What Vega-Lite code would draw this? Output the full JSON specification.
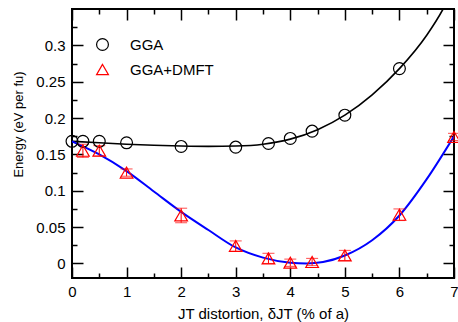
{
  "$schema": "https://vega.github.io/schema/vega-lite/v6.json",
  "width": 382,
  "height": 269,
  "autosize": "none",
  "padding": {"left": 72, "top": 9, "right": 4, "bottom": 44},
  "background": "white",
  "config": {
    "font": "Liberation Sans",
    "view": {"stroke": "black", "strokeWidth": 2},
    "axis": {"grid": false, "domain": false, "labelColor": "black", "titleColor": "black", "tickColor": "black", "labelFlush": false, "labelOverlap": false, "titleFontWeight": "normal"}
  },
  "datasets": {
    "gga_fit": [
      {"x": 0, "y": 0.168}, {"x": 0.5, "y": 0.166}, {"x": 1, "y": 0.164}, {"x": 1.5, "y": 0.1625},
      {"x": 2, "y": 0.1615}, {"x": 2.5, "y": 0.161}, {"x": 3, "y": 0.1615}, {"x": 3.5, "y": 0.164},
      {"x": 4, "y": 0.171}, {"x": 4.5, "y": 0.184}, {"x": 5, "y": 0.204}, {"x": 5.5, "y": 0.232},
      {"x": 6, "y": 0.268}, {"x": 6.5, "y": 0.314}, {"x": 6.8, "y": 0.35}, {"x": 7, "y": 0.38}
    ],
    "dmft_fit": [
      {"x": 0, "y": 0.168}, {"x": 0.5, "y": 0.15}, {"x": 1, "y": 0.127}, {"x": 1.5, "y": 0.099},
      {"x": 2, "y": 0.071}, {"x": 2.5, "y": 0.046}, {"x": 3, "y": 0.022}, {"x": 3.5, "y": 0.008},
      {"x": 4, "y": 0.001}, {"x": 4.3, "y": 0.0}, {"x": 4.6, "y": 0.002}, {"x": 5, "y": 0.011},
      {"x": 5.5, "y": 0.032}, {"x": 6, "y": 0.066}, {"x": 6.5, "y": 0.116}, {"x": 7, "y": 0.175}
    ],
    "gga": [
      {"x": 0, "y": 0.168, "series": "GGA"}, {"x": 0.2, "y": 0.168, "series": "GGA"},
      {"x": 0.5, "y": 0.168, "series": "GGA"}, {"x": 1, "y": 0.166, "series": "GGA"},
      {"x": 2, "y": 0.161, "series": "GGA"}, {"x": 3, "y": 0.16, "series": "GGA"},
      {"x": 3.6, "y": 0.165, "series": "GGA"}, {"x": 4, "y": 0.172, "series": "GGA"},
      {"x": 4.4, "y": 0.182, "series": "GGA"}, {"x": 5, "y": 0.204, "series": "GGA"},
      {"x": 6, "y": 0.268, "series": "GGA"}
    ],
    "dmft": [
      {"x": 0.2, "y": 0.155, "lo": 0.146, "hi": 0.164, "series": "GGA+DMFT"},
      {"x": 0.5, "y": 0.155, "lo": 0.148, "hi": 0.162, "series": "GGA+DMFT"},
      {"x": 1, "y": 0.125, "lo": 0.12, "hi": 0.13, "series": "GGA+DMFT"},
      {"x": 2, "y": 0.066, "lo": 0.056, "hi": 0.076, "series": "GGA+DMFT"},
      {"x": 3, "y": 0.024, "lo": 0.017, "hi": 0.031, "series": "GGA+DMFT"},
      {"x": 3.6, "y": 0.007, "lo": 0.0, "hi": 0.014, "series": "GGA+DMFT"},
      {"x": 4, "y": 0.001, "lo": -0.004, "hi": 0.006, "series": "GGA+DMFT"},
      {"x": 4.4, "y": 0.002, "lo": -0.003, "hi": 0.007, "series": "GGA+DMFT"},
      {"x": 5, "y": 0.011, "lo": 0.004, "hi": 0.018, "series": "GGA+DMFT"},
      {"x": 6, "y": 0.067, "lo": 0.059, "hi": 0.075, "series": "GGA+DMFT"},
      {"x": 7, "y": 0.174, "lo": 0.169, "hi": 0.179, "series": "GGA+DMFT"}
    ]
  },
  "resolve": {"axis": {"x": "independent", "y": "independent"}},
  "layer": [
    {
      "data": {"name": "gga_fit"},
      "mark": {"type": "line", "color": "black", "strokeWidth": 1.6, "clip": true, "interpolate": "monotone"},
      "encoding": {
        "x": {"field": "x", "type": "quantitative", "scale": {"domain": [0, 7], "nice": false, "zero": false},
          "axis": {"orient": "bottom", "values": [0, 1, 2, 3, 4, 5, 6, 7], "format": "d", "ticks": false, "labelPadding": 6, "labelFontSize": 15,
            "title": "JT distortion, δJT (% of a)", "titleFontSize": 15, "titleColor": "black", "titleY": 28, "titleBaseline": "top"}},
        "y": {"field": "y", "type": "quantitative", "scale": {"domain": [-0.02, 0.35], "nice": false, "zero": false},
          "axis": {"orient": "left", "values": [0, 0.05, 0.1, 0.15, 0.2, 0.25, 0.3], "format": ".2~f", "ticks": false, "labelPadding": 7, "labelFontSize": 15,
            "title": "Energy (eV per fu)", "titleFontSize": 13, "titleColor": "black", "titleX": -47, "titleY": 115}}
      }
    },
    {
      "data": {"name": "dmft_fit"},
      "mark": {"type": "line", "color": "#0000ff", "strokeWidth": 2, "clip": true, "interpolate": "monotone"},
      "encoding": {
        "x": {"field": "x", "type": "quantitative", "scale": {"domain": [0, 7], "nice": false, "zero": false},
          "axis": {"orient": "bottom", "values": [0, 1, 2, 3, 4, 5, 6, 7], "labels": false, "tickSize": -11, "tickWidth": 1.5, "title": null}},
        "y": {"field": "y", "type": "quantitative", "scale": {"domain": [-0.02, 0.35], "nice": false, "zero": false},
          "axis": {"orient": "left", "values": [0, 0.05, 0.1, 0.15, 0.2, 0.25, 0.3], "labels": false, "tickSize": -11, "tickWidth": 1.5, "title": null}}
      }
    },
    {
      "data": {"name": "dmft"},
      "mark": {"type": "rule", "color": "red", "strokeWidth": 1},
      "encoding": {
        "x": {"field": "x", "type": "quantitative", "scale": {"domain": [0, 7], "nice": false, "zero": false},
          "axis": {"orient": "bottom", "values": [0.5, 1.5, 2.5, 3.5, 4.5, 5.5, 6.5], "labels": false, "tickSize": -5, "tickWidth": 1.5, "title": null}},
        "y": {"field": "lo", "type": "quantitative", "scale": {"domain": [-0.02, 0.35], "nice": false, "zero": false},
          "axis": {"orient": "left", "values": [0.025, 0.075, 0.125, 0.175, 0.225, 0.275, 0.325], "labels": false, "tickSize": -5, "tickWidth": 1.5, "title": null}},
        "y2": {"field": "hi"}
      }
    },
    {
      "data": {"name": "dmft"},
      "transform": [{"fold": ["lo", "hi"], "as": ["end", "val"]}],
      "mark": {"type": "tick", "orient": "horizontal", "color": "red", "size": 12, "thickness": 1},
      "encoding": {
        "x": {"field": "x", "type": "quantitative", "scale": {"domain": [0, 7], "nice": false, "zero": false}, "axis": null},
        "y": {"field": "val", "type": "quantitative", "scale": {"domain": [-0.02, 0.35], "nice": false, "zero": false}, "axis": null}
      }
    },
    {
      "data": {"name": "gga"},
      "mark": {"type": "point", "filled": false, "size": 140, "strokeWidth": 1.2, "opacity": 1},
      "encoding": {
        "x": {"field": "x", "type": "quantitative", "scale": {"domain": [0, 7], "nice": false, "zero": false},
          "axis": {"orient": "top", "values": [0, 1, 2, 3, 4, 5, 6, 7], "labels": false, "tickSize": -11, "tickWidth": 1.5, "title": null}},
        "y": {"field": "y", "type": "quantitative", "scale": {"domain": [-0.02, 0.35], "nice": false, "zero": false},
          "axis": {"orient": "right", "values": [0, 0.05, 0.1, 0.15, 0.2, 0.25, 0.3], "labels": false, "tickSize": -11, "tickWidth": 1.5, "title": null}},
        "color": {"field": "series", "type": "nominal", "scale": {"domain": ["GGA", "GGA+DMFT"], "range": ["black", "red"]},
          "legend": {"orient": "none", "legendX": 23, "legendY": 28, "title": null, "labelFontSize": 15, "labelColor": "black", "symbolSize": 140, "symbolStrokeWidth": 1.2, "rowPadding": 8, "labelOffset": 20, "padding": 0}},
        "shape": {"field": "series", "type": "nominal", "scale": {"domain": ["GGA", "GGA+DMFT"], "range": ["circle", "triangle-up"]},
          "legend": {"orient": "none", "legendX": 23, "legendY": 28, "title": null, "labelFontSize": 15, "labelColor": "black", "symbolSize": 140, "symbolStrokeWidth": 1.2, "rowPadding": 8, "labelOffset": 20, "padding": 0}}
      }
    },
    {
      "data": {"name": "dmft"},
      "mark": {"type": "point", "filled": false, "size": 160, "strokeWidth": 1.2, "opacity": 1},
      "encoding": {
        "x": {"field": "x", "type": "quantitative", "scale": {"domain": [0, 7], "nice": false, "zero": false},
          "axis": {"orient": "top", "values": [0.5, 1.5, 2.5, 3.5, 4.5, 5.5, 6.5], "labels": false, "tickSize": -5, "tickWidth": 1.5, "title": null}},
        "y": {"field": "y", "type": "quantitative", "scale": {"domain": [-0.02, 0.35], "nice": false, "zero": false},
          "axis": {"orient": "right", "values": [0.025, 0.075, 0.125, 0.175, 0.225, 0.275, 0.325], "labels": false, "tickSize": -5, "tickWidth": 1.5, "title": null}},
        "color": {"field": "series", "type": "nominal", "scale": {"domain": ["GGA", "GGA+DMFT"], "range": ["black", "red"]}},
        "shape": {"field": "series", "type": "nominal", "scale": {"domain": ["GGA", "GGA+DMFT"], "range": ["circle", "triangle-up"]}}
      }
    }
  ]
}
